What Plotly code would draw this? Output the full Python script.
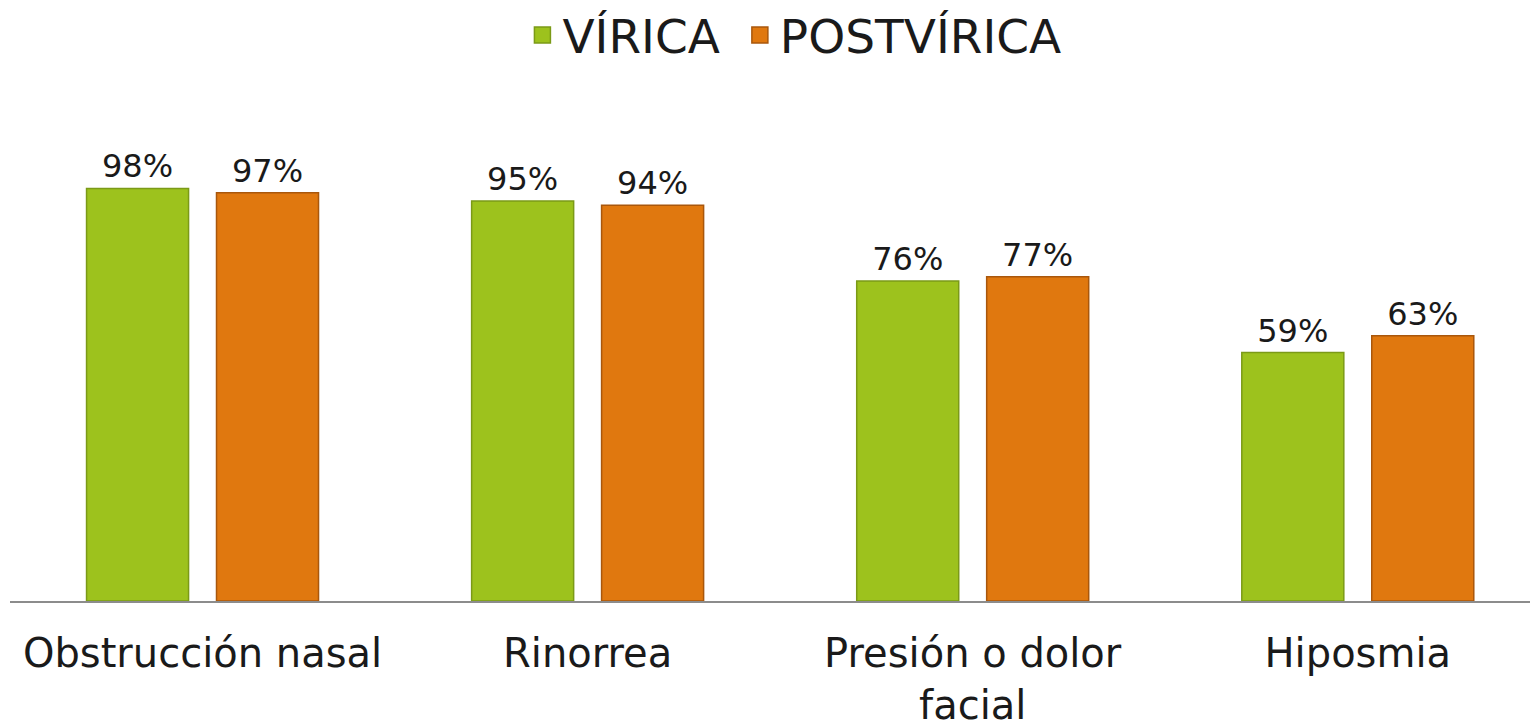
import plotly.graph_objects as go

categories = ["Obstrucción nasal", "Rinorrea", "Presión o dolor<br>facial", "Hiposmia"]
virica = [98, 95, 76, 59]
postvirica = [97, 94, 77, 63]
series_names = ["VÍRICA\u00a0", "POSTVÍRICA"]

FONT = "DejaVu Sans, Lato, sans-serif"
GREEN, GREEN_EDGE = "#9dc21d", "#7b9a17"
ORANGE, ORANGE_EDGE = "#e0780f", "#a9570c"

fig = go.Figure()
for name, vals, col, edge in [(series_names[0], virica, GREEN, GREEN_EDGE),
                              (series_names[1], postvirica, ORANGE, ORANGE_EDGE)]:
    fig.add_trace(go.Bar(
        x=categories, y=vals, name=name, showlegend=False,
        marker=dict(color=col, line=dict(color=edge, width=1.5)),
        texttemplate="%{y}%", textposition="outside",
        textfont=dict(size=32, color="#1a1a1a", family=FONT),
        cliponaxis=False,
    ))

# bigger legend squares than plotly's default bar swatches
for name, col, edge in [(series_names[0], GREEN, GREEN_EDGE),
                        (series_names[1], ORANGE, ORANGE_EDGE)]:
    fig.add_trace(go.Scatter(
        x=[None], y=[None], mode="markers", name=name,
        marker=dict(symbol="square", size=18, color=col, line=dict(color=edge, width=1.5)),
    ))

# page body adds 8px offset, so figure is 8px smaller than the window
fig.update_layout(
    width=1530, height=720,
    margin=dict(l=2, r=0, t=172, b=127),
    paper_bgcolor="white", plot_bgcolor="white",
    barmode="group", bargap=0.325, bargroupgap=0.215,
    font=dict(family=FONT, color="#1a1a1a"),
    legend=dict(orientation="h", x=0.514, xanchor="center", xref="container",
                y=0.962, yanchor="middle", yref="container",
                font=dict(size=47, family=FONT), itemwidth=30, traceorder="normal"),
)
fig.update_xaxes(range=[-0.5, 3.468], showline=True, linecolor="#8c8c8c", linewidth=2,
                 ticks="", tickfont=dict(size=40, family=FONT), ticklabelstandoff=16,
                 automargin=False)
fig.update_yaxes(range=[0, 100], visible=False, showgrid=False, automargin=False)

fig.write_html("out.html")
